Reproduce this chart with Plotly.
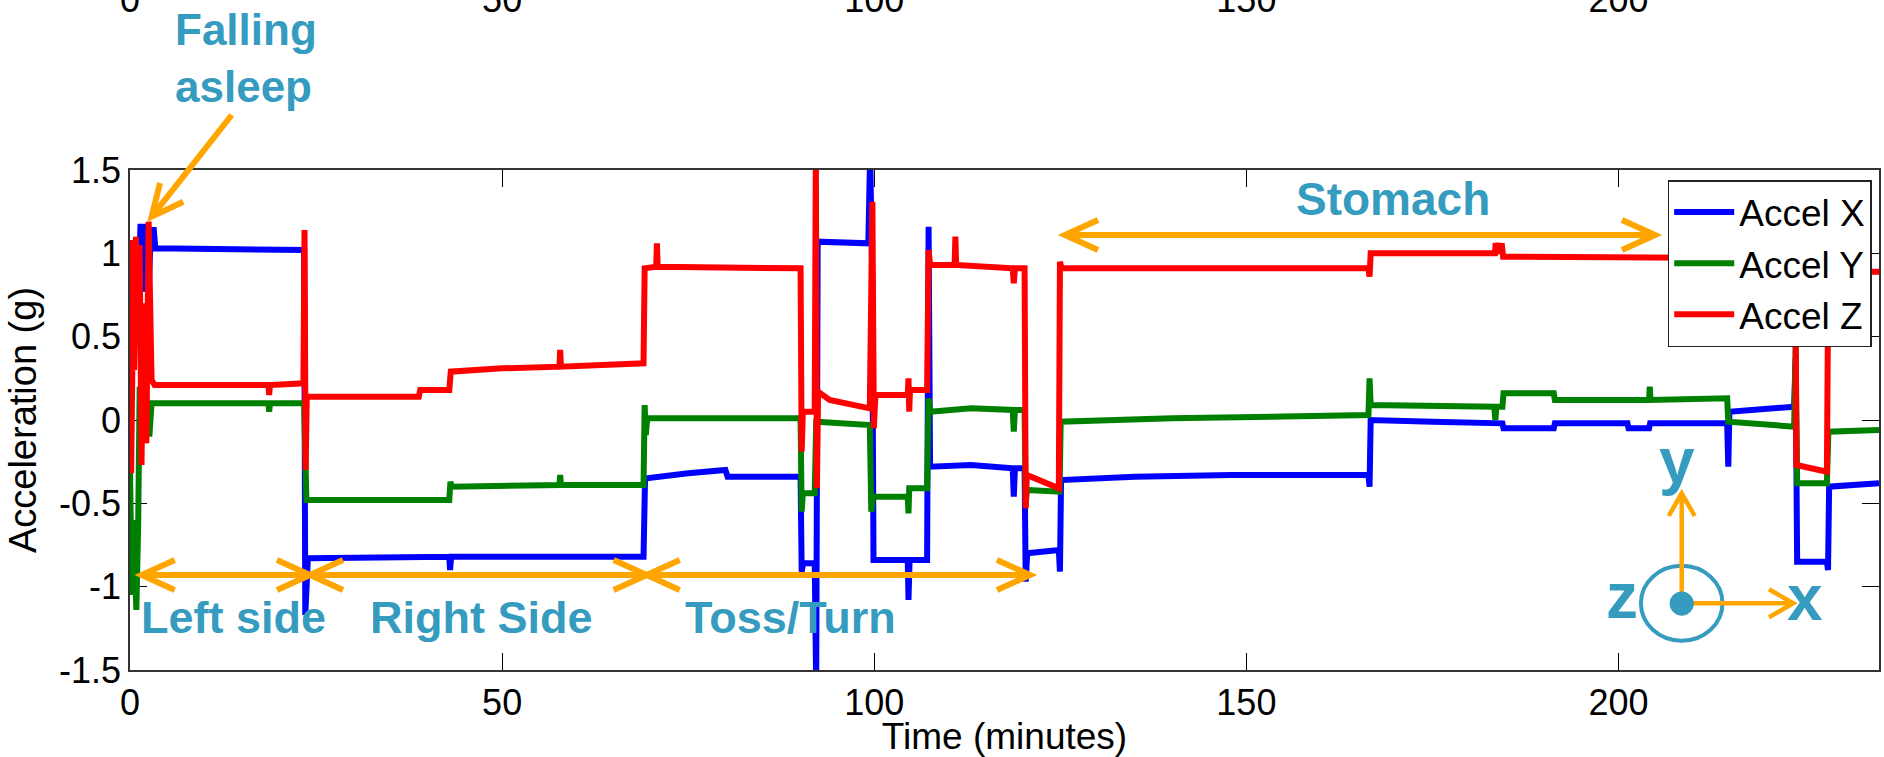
import plotly.graph_objects as go

# ---------------- data (minutes, g) ----------------
accel_x = [(0.0, 0.6), (0.35, 0.87), (0.6, 0.46), (0.85, 0.87), (1.2, 0.87), (1.4, 1.16), (1.9, 1.16),
           (2.1, 0.77), (2.3, 1.14), (2.5, 0.77), (2.8, 1.14), (3.2, 1.14), (3.4, 1.03),
           (23.4, 1.02), (23.55, -1.17), (23.7, -0.83), (23.9, -0.83), (42.9, -0.82), (43.0, -0.90),
           (43.15, -0.82), (60.0, -0.82), (69.0, -0.82), (69.2, -0.36), (69.4, -0.35), (75.0, -0.32),
           (80.0, -0.30), (80.3, -0.34), (90.1, -0.34), (90.25, -0.91), (90.45, -0.86), (92.0, -0.86),
           (92.2, -1.6), (92.4, 1.07), (99.2, 1.06), (99.45, 1.6), (99.7, 0.93), (99.9, -0.84),
           (104.5, -0.84), (104.6, -1.08), (104.75, -0.84), (107.1, -0.84), (107.3, 1.16), (107.5, -0.28),
           (113.0, -0.27), (118.6, -0.29), (118.75, -0.46), (118.9, -0.29), (120.2, -0.29), (120.35, -0.97),
           (120.55, -0.80), (124.8, -0.78), (124.95, -0.91), (125.1, -0.36), (135.0, -0.34), (148.0, -0.33),
           (166.4, -0.33), (166.55, -0.40), (166.7, 0.00), (175.0, -0.01), (184.4, -0.02), (184.55, -0.05),
           (191.3, -0.05), (191.45, -0.02), (201.2, -0.02), (201.35, -0.05), (204.1, -0.05), (204.25, -0.02),
           (214.6, -0.02), (214.75, -0.28), (214.9, 0.05), (223.6, 0.08), (223.8, 0.37), (224.0, -0.85),
           (228.0, -0.85), (228.15, -0.90), (228.3, -0.40), (235.0, -0.38)]

accel_y = [(0.0, -0.30), (0.25, -1.05), (0.5, -0.60), (0.85, -1.14), (1.1, -0.62), (1.3, 0.20), (1.5, -0.05),
           (1.8, 0.13), (2.1, -0.07), (2.3, 0.12), (2.6, -0.10), (2.9, 0.10), (3.3, 0.10),
           (18.6, 0.10), (18.7, 0.05), (18.8, 0.10), (23.4, 0.10), (23.55, -0.41), (23.7, -0.48),
           (42.9, -0.48), (43.05, -0.37), (43.2, -0.40), (57.7, -0.39), (57.8, -0.33), (57.9, -0.39),
           (69.0, -0.39), (69.15, 0.09), (69.3, -0.09), (69.5, 0.01), (90.1, 0.01), (90.25, -0.55),
           (90.4, -0.44), (92.0, -0.44), (92.2, -0.01), (99.4, -0.03), (99.6, -0.55), (99.8, -0.46),
           (104.5, -0.46), (104.6, -0.56), (104.7, -0.41), (107.1, -0.41), (107.3, 0.13), (107.5, 0.05),
           (113.0, 0.07), (118.6, 0.06), (118.75, -0.07), (118.9, 0.06), (120.2, 0.06), (120.35, -0.51),
           (120.5, -0.42), (124.9, -0.43), (125.05, -0.01), (140.0, 0.01), (166.4, 0.03), (166.55, 0.25),
           (166.7, 0.09), (183.3, 0.08), (183.45, 0.00), (183.6, 0.08), (184.4, 0.08), (184.55, 0.16),
           (191.3, 0.16), (191.45, 0.12), (204.1, 0.12), (204.2, 0.20), (204.3, 0.12), (214.6, 0.13),
           (214.75, -0.01), (223.6, -0.04), (223.8, 0.44), (224.0, -0.38), (228.0, -0.38), (228.2, -0.07),
           (235.0, -0.06)]

accel_z = [(0.0, 1.08), (0.15, -0.32), (0.35, 0.45), (0.55, 0.30), (0.8, 1.10), (1.05, 0.50), (1.3, 1.05),
           (1.55, -0.27), (1.75, 0.70), (1.95, 0.38), (2.2, -0.14), (2.5, 1.19), (2.75, 0.30), (2.9, 0.24),
           (3.3, 0.21), (18.6, 0.21), (18.7, 0.15), (18.8, 0.21), (23.3, 0.22), (23.45, 1.14), (23.6, -0.30),
           (23.75, 0.14), (38.8, 0.14), (39.0, 0.18), (42.9, 0.18), (43.1, 0.29), (50.0, 0.31), (57.7, 0.32),
           (57.8, 0.42), (57.9, 0.32), (69.0, 0.34), (69.15, 0.91), (70.7, 0.92), (70.8, 1.06), (70.9, 0.92),
           (90.1, 0.91), (90.25, -0.19), (90.4, 0.05), (92.0, 0.05), (92.15, 1.6), (92.3, -0.41), (92.45, 0.17),
           (94.0, 0.12), (97.0, 0.09), (99.4, 0.07), (99.75, 1.31), (99.95, -0.05), (100.15, 0.15),
           (104.5, 0.15), (104.6, 0.25), (104.7, 0.05), (104.8, 0.18), (107.1, 0.18), (107.3, 1.02),
           (107.5, 0.93), (110.8, 0.93), (110.9, 1.10), (111.0, 0.93), (118.6, 0.91), (118.75, 0.82),
           (118.9, 0.91), (120.2, 0.91), (120.35, -0.53), (120.5, -0.33), (124.8, -0.41), (124.95, 0.95),
           (125.15, 0.91), (148.0, 0.91), (166.4, 0.91), (166.55, 0.86), (166.7, 1.00), (183.4, 1.00),
           (183.5, 1.06), (184.0, 1.00), (184.3, 1.06), (184.5, 0.98), (223.6, 0.97), (223.8, 0.60),
           (223.9, -0.27), (228.0, -0.31), (228.2, 0.95), (228.4, 0.89), (235.0, 0.89)]

series_names = ["Accel X", "Accel Y", "Accel Z"]
series_colors = ["rgb(0,0,255)", "rgb(0,128,0)", "rgb(255,0,0)"]

x_tick_vals = [0, 50, 100, 150, 200]
y_tick_vals = [-1.5, -1, -0.5, 0, 0.5, 1, 1.5]
y_tick_text = ["-1.5", "-1", "-0.5", "0", "0.5", "1", "1.5"]

# ---------------- layout constants ----------------
W, H = 1884, 757
ML, MR, MT, MB = 130, 5, 170, 87
PW, PH = W - ML - MR, H - MT - MB
FONT = "Liberation Sans, Arial, Helvetica, sans-serif"
TEAL = "#359BBF"
ORANGE = "rgb(255,165,0)"


def px(xp):
    return (xp - ML) / PW


def py(yp):
    return (H - MB - yp) / PH


fig = go.Figure()
for pts, name, col in zip([accel_x, accel_y, accel_z], series_names, series_colors):
    t, v = zip(*pts)
    fig.add_trace(go.Scatter(x=list(t), y=list(v), mode="lines", name=name,
                             line=dict(color=col, width=6)))
# empty trace carrying the cut-off upper axis labels
fig.add_trace(go.Scatter(x=[], y=[], xaxis="x2", showlegend=False, hoverinfo="skip"))

shapes = []


def seg(x0, y0, x1, y1, w=6, col=ORANGE):
    shapes.append(dict(type="line", xref="paper", yref="paper", x0=px(x0), y0=py(y0),
                       x1=px(x1), y1=py(y1), line=dict(color=col, width=w)))


def chev(tx, ty, a1x, a1y, a2x, a2y, w=6, col=ORANGE):
    path = "M %.5f,%.5f L %.5f,%.5f L %.5f,%.5f" % (px(a1x), py(a1y), px(tx), py(ty), px(a2x), py(a2y))
    shapes.append(dict(type="path", xref="paper", yref="paper", path=path,
                       line=dict(color=col, width=w)))


def dbl(xa, xb, y, dx=33, dy=15):
    seg(xa, y, xb, y)
    chev(xa, y, xa + dx, y - dy, xa + dx, y + dy)
    chev(xb, y, xb - dx, y - dy, xb - dx, y + dy)


dbl(141.7, 310, 575)
dbl(310, 646.7, 575)
dbl(646.7, 1030, 575)
dbl(1065, 1655, 235)
# falling asleep arrow
seg(231.7, 115, 151.7, 216.7)
chev(151.7, 216.7, 160, 183, 183.3, 201.7)
# axis icon
cx, cy = 1681.7, 603.3
shapes.append(dict(type="circle", xref="paper", yref="paper", x0=px(cx - 40.8), x1=px(cx + 40.8),
                   y0=py(cy + 37.5), y1=py(cy - 37.5), line=dict(color=TEAL, width=4)))
seg(cx, cy, cx, 493.3, w=4.5)
chev(cx, 493.3, cx - 13, 516, cx + 13, 516, w=4.5)
seg(cx, cy, 1793.3, cy, w=4.5)
chev(1793.3, cy, 1769, cy - 14, 1769, cy + 14, w=4.5)
shapes.append(dict(type="circle", xref="paper", yref="paper", x0=px(cx - 11.7), x1=px(cx + 11.7),
                   y0=py(cy + 12), y1=py(cy - 11.4), fillcolor=TEAL, line=dict(color=TEAL, width=1)))

annotations = []


def label(text, xc, yc, size, xanchor="center", yanchor="middle", align="center"):
    annotations.append(dict(text=text, x=px(xc), y=py(yc), xref="paper", yref="paper",
                            showarrow=False, xanchor=xanchor, yanchor=yanchor, align=align,
                            font=dict(family=FONT, size=size, color=TEAL)))


label("<b>Falling<br>asleep</b>", 173, 2.5, 44, xanchor="left", yanchor="top", align="left")
label("<b>Left side</b>", 233.3, 617, 45)
label("<b>Right Side</b>", 481.7, 617, 45)
label("<b>Toss/Turn</b>", 790.7, 617, 45)
label("<b>Stomach</b>", 1393.3, 199, 46)
label("<b>y</b>", 1676.7, 461, 64)
label("<b>z</b>", 1621.7, 596, 64)
label("<b>x</b>", 1804.8, 598, 64)

fig.update_layout(
    width=W, height=H,
    margin=dict(l=ML, r=MR, t=MT, b=MB, pad=0, autoexpand=False),
    paper_bgcolor="white", plot_bgcolor="white",
    font=dict(family=FONT, color="black"),
    shapes=shapes, annotations=annotations,
    legend=dict(x=px(1871.7), y=py(180), xanchor="right", yanchor="top",
                bgcolor="white", bordercolor="#222", borderwidth=1.5,
                font=dict(family=FONT, size=37, color="black"), itemwidth=60, tracegroupgap=0),
    xaxis=dict(range=[0, 235], tickmode="array", tickvals=x_tick_vals, ticks="inside", ticklen=17,
               tickwidth=1.2, tickcolor="black", showline=True, linecolor="#333", linewidth=1.5,
               mirror="ticks", showgrid=False, zeroline=False, layer="below traces", automargin=False,
               tickfont=dict(family=FONT, size=36, color="black"),
               title=dict(text="Time (minutes)", font=dict(family=FONT, size=37, color="black"), standoff=0)),
    xaxis2=dict(overlaying="x", side="top", range=[0, 235], tickmode="array", tickvals=x_tick_vals,
                ticks="", showline=False, showgrid=False, zeroline=False, ticklabelstandoff=150,
                automargin=False, tickfont=dict(family=FONT, size=36, color="black")),
    yaxis=dict(range=[-1.5, 1.5], tickmode="array", tickvals=y_tick_vals, ticktext=y_tick_text,
               ticks="inside", ticklen=17, tickwidth=1.2, tickcolor="black", showline=True,
               linecolor="#333", linewidth=1.5, mirror="ticks", showgrid=False, zeroline=False,
               layer="below traces", automargin=False, tickfont=dict(family=FONT, size=36, color="black"),
               title=dict(text="Acceleration (g)", font=dict(family=FONT, size=38, color="black"), standoff=11)),
)

fig.write_html("out.html", config={"displayModeBar": False},
               post_script="document.body.style.margin='0';")
